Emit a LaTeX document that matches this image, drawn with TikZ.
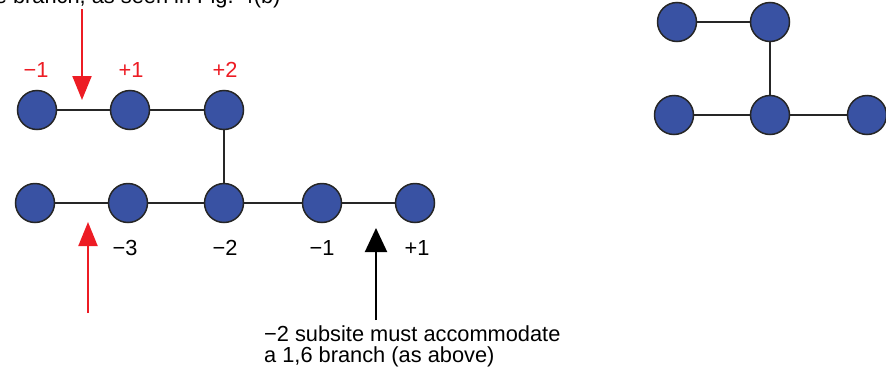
\documentclass[tikz,border=0pt]{standalone}
\usepackage{fontspec}
\setmainfont{Liberation Sans}
\usetikzlibrary{arrows.meta}
\usepackage{xcolor}
\definecolor{siteblue}{RGB}{57,82,163}
\definecolor{cutred}{RGB}{237,28,36}

\begin{document}
\begin{tikzpicture}[x=1pt,y=-1pt,
	  every node/.style={font=\fontsize{21.8}{20.5}\selectfont},
	  site/.style={circle,draw=black!85,line width=1.5pt,fill=siteblue,minimum size=39pt,inner sep=0pt},
	  bond/.style={line width=1.3pt,draw=black!85},
	  redlabel/.style={text=cutred},
	  cut/.style={-{Triangle[length=24pt,width=19pt]},line width=2pt,draw=cutred},
	  pointer/.style={-{Triangle[length=24pt,width=22pt]},line width=2pt,draw=black}]

	  \useasboundingbox (0,0) rectangle (886,370);
	  \clip (0,0) rectangle (886,370);

	  % Branch on the reducing side (top row)
	  \node[site] (tA) at (37,110) {};
	  \node[site] (tB) at (130,110) {};
	  \node[site] (tC) at (224,110) {};
	  % Main chain (bottom row)
	  \node[site] (bA) at (35,203) {};
	  \node[site] (bB) at (128,203) {};
	  \node[site] (bC) at (224,203) {};
	  \node[site] (bD) at (322,203) {};
	  \node[site] (bE) at (415,203) {};

	  \draw[bond] (tA) -- (tB) -- (tC);
	  \draw[bond] (tC) -- (bC);
	  \draw[bond] (bA) -- (bB) -- (bC) -- (bD) -- (bE);

	  % Subsite numbers
	  \node[redlabel] (lm1) at (36,70) {−1};
	  \node[redlabel] (lp1) at (131,70) {+1};
	  \node[redlabel] (lp2) at (225,70) {+2};
	  \node (sm3) at (125,248) {−3};
	  \node (sm2) at (225,248) {−2};
	  \node (sm1) at (322,248) {−1};
	  \node (sp1) at (417,248) {+1};

	  % Cleavage points
	  \node[anchor=base east] (topnote) at (284,3) {e branch, as seen in Fig. 4(b)};
	  \coordinate (topcut) at (82,9);
	  \coordinate (topcuttip) at (82,100);
	  \draw[cut] (topcut) -- (topcuttip);
	  \coordinate (lowcut) at (88,313);
	  \coordinate (lowcuttip) at (88,222);
	  \draw[cut] (lowcut) -- (lowcuttip);

	  \node[anchor=base west,align=left,inner sep=0pt] (note) at (264,362) {−2 subsite must accommodate\\a 1,6 branch (as above)};
	  \coordinate (notetail) at (376,320);
	  \coordinate (notetip) at (376,228);
	  \draw[pointer] (notetail) -- (notetip);

	  % Branched fragment on its own
	  \node[site] (rA) at (677,22) {};
	  \node[site] (rB) at (770,22) {};
	  \node[site] (rC) at (674,115) {};
	  \node[site] (rD) at (770,115) {};
	  \node[site] (rE) at (867,115) {};

	  \draw[bond] (rA) -- (rB) -- (rD);
	  \draw[bond] (rC) -- (rD) -- (rE);

\end{tikzpicture}
\end{document}
